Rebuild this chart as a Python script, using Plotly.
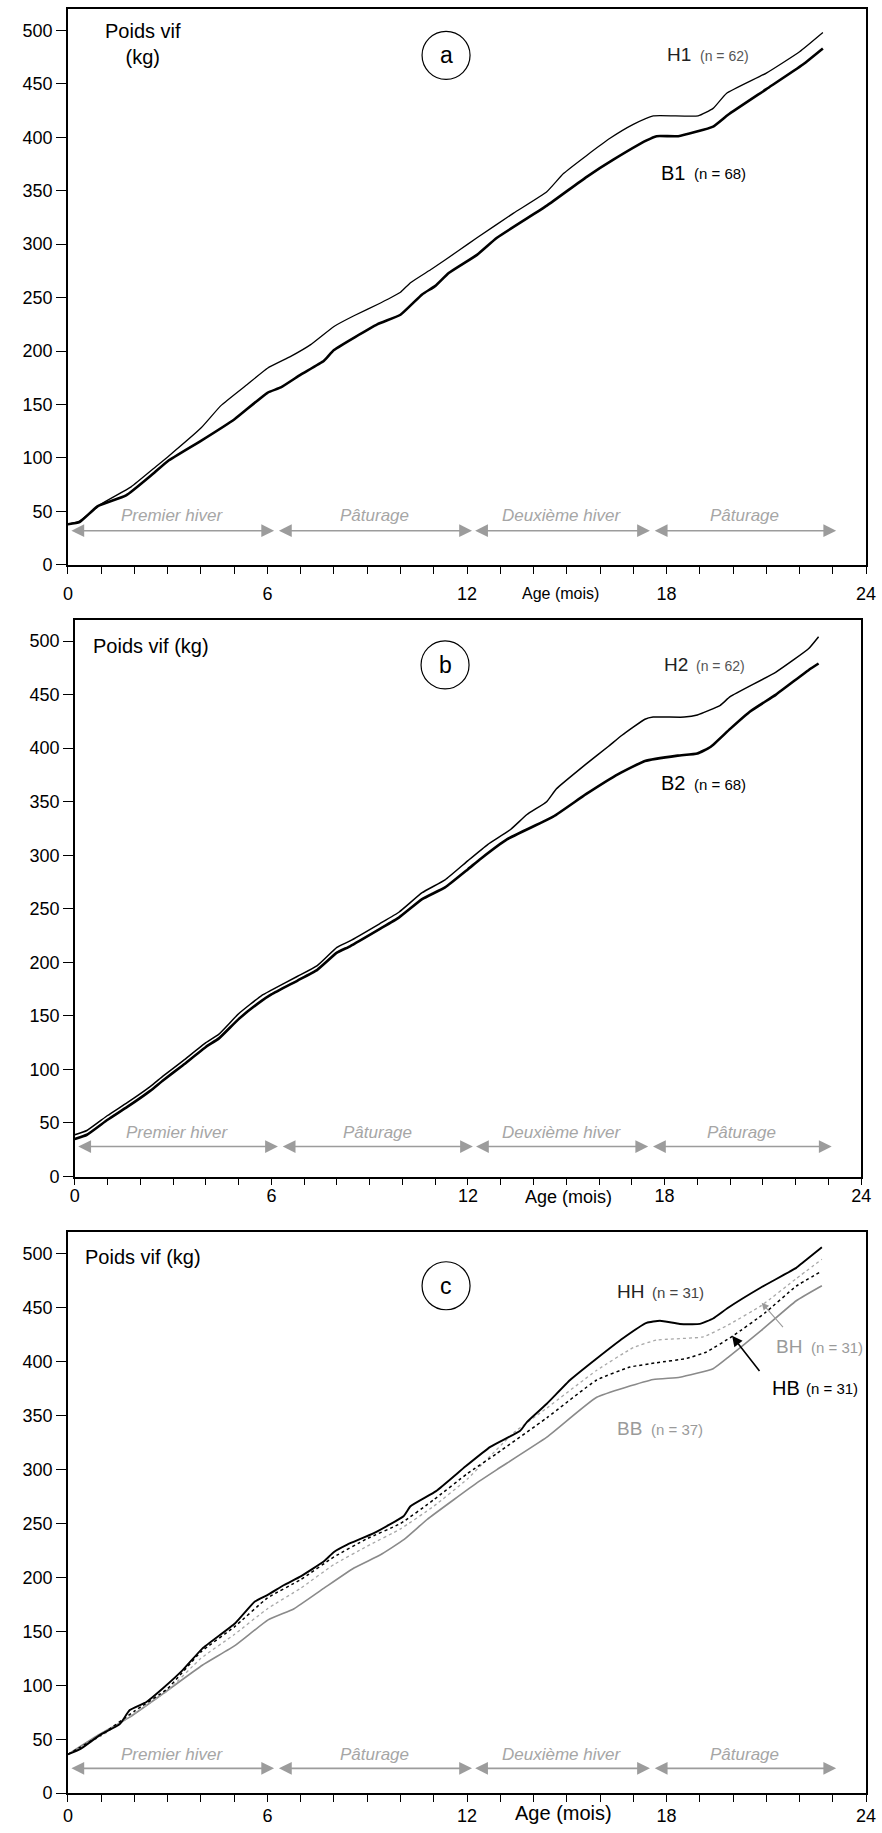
import plotly.graph_objects as go

# ---------------- data (age in months, live weight in kg) ----------------
H1_age = [0, 0.35, 1.0, 1.9, 2.65, 3.0, 4.0, 4.6, 5.4, 6.0, 6.7, 7.3, 8.0, 8.6, 9.4, 10.0, 10.3, 10.95,
          11.75, 12.3, 13.4, 14.4, 14.9, 15.6, 16.3, 17.0, 17.6, 18.95, 19.4, 19.8, 21.0, 22.0, 22.7]
H1_w = [38, 41, 57, 73, 92, 101, 128, 149, 169, 184, 195, 206, 223, 233, 245, 255, 264, 277,
        294, 306, 329, 349, 366, 383, 399, 412, 420, 420, 427, 441, 460, 480, 498]
B1_age = [0, 0.35, 0.9, 1.75, 2.55, 3.0, 4.0, 5.0, 6.0, 6.4, 7.0, 7.7, 8.0, 9.3, 10.0, 10.65, 11.05,
          11.45, 12.3, 12.9, 14.4, 15.6, 16.4, 17.4, 17.7, 18.35, 19.4, 19.85, 21.0, 22.1, 22.7]
B1_w = [38, 40, 55, 65, 85, 97, 116, 136, 161, 166, 178, 191, 201, 225, 234, 253, 261,
        273, 290, 306, 336, 363, 379, 397, 401, 401, 410, 421, 445, 468, 483]

H2_age = [0, 0.37, 1.0, 1.6, 2.3, 2.7, 3.3, 4.0, 4.4, 5.0, 5.7, 6.0, 6.8, 7.4, 8.0, 8.4, 9.3, 9.9, 10.6,
          11.3, 12.0, 12.6, 13.3, 13.8, 14.4, 14.7, 15.6, 16.3, 16.7, 17.4, 17.65, 18.6, 19.0, 19.7,
          20.0, 21.4, 22.4, 22.7]
H2_w = [39, 43, 57, 69, 84, 94, 108, 125, 133, 152, 169, 174, 187, 197, 214, 220, 236, 247, 265,
        277, 295, 310, 324, 338, 350, 362, 385, 402, 412, 427, 429, 429, 431, 440,
        448, 471, 493, 504]
B2_age = [0, 0.37, 1.0, 1.6, 2.3, 2.7, 3.3, 4.0, 4.4, 5.0, 5.7, 6.0, 6.8, 7.4, 8.0, 8.4, 9.3, 9.9, 10.6,
          11.3, 12.0, 12.4, 13.2, 14.6, 15.6, 16.6, 17.4, 18.4, 19.0, 19.4, 20.0, 20.6, 21.4, 22.4, 22.7]
B2_w = [35, 39, 53, 65, 80, 90, 104, 121, 129, 147, 164, 170, 183, 193, 209, 215, 231, 242, 259,
        270, 287, 297, 315, 336, 357, 376, 388, 393, 395, 401, 418, 434, 450, 473, 479]

HH_age = [0, 0.38, 0.97, 1.56, 1.86, 2.36, 2.85, 3.45, 4.04, 5.03, 5.62, 6.02, 6.5, 7.0, 7.7, 8.0, 8.4,
          9.2, 10.1, 10.3, 11.07, 11.96, 12.7, 13.6, 13.8, 14.4, 15.1, 15.9, 16.7, 17.4, 17.8, 18.4,
          19.0, 19.4, 19.85, 20.85, 21.9, 22.1, 22.67]
HH_w = [36, 41, 54, 64, 77, 84.5, 97, 114, 134, 157.5, 177.6, 184, 193, 201, 215, 223.6, 230.4,
        241, 257, 266, 280, 303, 321, 336, 344, 361, 383, 403, 422, 436, 438, 435,
        435, 440, 450, 469, 487, 492, 506]
HB_age = [0, 1.0, 2.0, 3.0, 4.0, 5.0, 6.0, 7.0, 8.0, 9.0, 10.0, 11.0, 12.0, 12.9, 14.4, 15.9, 16.9,
          17.7, 18.6, 19.2, 20.0, 20.95, 21.9, 22.67]
HB_w = [36, 54, 76, 97, 131, 154, 181, 198, 219, 236, 250, 272, 296, 315, 348, 383, 395,
        399, 403, 409, 424, 445, 470, 484]
BH_age = [0, 1.0, 2.0, 3.0, 4.0, 5.0, 6.0, 7.0, 8.0, 9.0, 10.0, 11.0, 12.0, 13.4, 14.4, 15.9, 17.0,
          17.7, 19.1, 19.85, 20.85, 21.9, 22.67]
BH_w = [36, 53, 74, 95, 125, 147, 171, 190, 212, 229, 245, 266, 291, 334, 357, 392, 413,
        420, 423, 434, 452, 477, 495]
BB_age = [0, 0.87, 1.86, 2.85, 4.04, 5.03, 6.02, 6.8, 7.7, 8.6, 9.4, 10.1, 10.8, 11.6, 12.36, 12.9,
          14.4, 15.9, 17.6, 18.4, 19.4, 19.85, 20.85, 21.9, 22.67]
BB_w = [36, 53, 70.5, 92, 118.6, 137, 160.6, 171, 190, 208.7, 221, 235, 253.7, 272, 289, 300,
        330, 367, 383.5, 385.6, 393.5, 404, 429, 456.5, 470.4]

phase_labels = ["Premier hiver", "Pâturage", "Deuxième hiver", "Pâturage"]
phase_start = [0.06, 6.3, 12.2, 17.6]
phase_end = [6.2, 12.15, 17.5, 23.1]

x_tick_vals = list(range(0, 25))
x_tick_text = [str(v) if v % 6 == 0 else "" for v in x_tick_vals]
y_tick_vals = list(range(0, 501, 50))

FONT = "Liberation Sans, Arial, sans-serif"
W, H = 882, 1833

fig = go.Figure()

def add_line(x, y, ax, color="black", width=1.5, dash="solid"):
    fig.add_trace(go.Scatter(x=x, y=y, mode="lines", xaxis="x" + ax, yaxis="y" + ax,
                             line=dict(color=color, width=width, dash=dash, shape="spline",
                                       smoothing=0.4),
                             showlegend=False, hoverinfo="skip"))

# panel a
add_line(H1_age, H1_w, "", width=1.3)
add_line(B1_age, B1_w, "", width=2.6)
# panel b
add_line(H2_age, H2_w, "2", width=1.5)
add_line(B2_age, B2_w, "2", width=2.6)
# panel c
add_line(BB_age, BB_w, "3", color="#8a8a8a", width=1.6)
add_line(BH_age, BH_w, "3", color="#a8a8a8", width=1.3, dash="dot")
add_line(HB_age, HB_w, "3", color="black", width=1.5, dash="3px,3px")
add_line(HH_age, HH_w, "3", color="black", width=1.9)

def px_x(px):
    return px / W

def px_y(py):
    return 1 - py / H

# panel geometry in page pixels: (x0, x1, ybottom, ytop, tick label standoff)
panels = {
    "": (64, 876, 568, 9, 5),
    "2": (71, 871, 1183, 623, -5),
    "3": (64, 876, 1803, 1239, -2),
}

layout = dict(width=W, height=H, margin=dict(l=0, r=0, t=0, b=0),
              paper_bgcolor="white", plot_bgcolor="white", showlegend=False)
for k, (px0, px1, pyb, pyt, stand) in panels.items():
    xa = dict(domain=[px_x(px0), px_x(px1)], range=[0, 24], anchor="y" + k,
              tickvals=x_tick_vals, ticktext=x_tick_text, ticks="outside", ticklen=7,
              tickwidth=1.2, tickcolor="black", showline=True, linecolor="black",
              linewidth=1.5, mirror=True, showgrid=False, zeroline=False,
              ticklabelstandoff=stand, ticklabeloverflow="allow",
              tickfont=dict(family=FONT, size=18, color="black"))
    ya = dict(domain=[px_y(pyb), px_y(pyt)], range=[0, 520], anchor="x" + k,
              tickvals=y_tick_vals, ticks="outside", ticklen=10, tickwidth=1.2,
              tickcolor="black", showline=True, linecolor="black", linewidth=1.5,
              mirror=True, showgrid=False, zeroline=False,
              tickfont=dict(family=FONT, size=18, color="black"))
    layout["xaxis" + k] = xa
    layout["yaxis" + k] = ya
fig.update_layout(**layout)

ann = []
shapes = []

def txt(ax, x, y, text, size=16, color="black", xanchor="left", italic=False, yref=None):
    ann.append(dict(xref="x" + ax, yref=yref if yref else "y" + ax, x=x, y=y, text=text,
                    showarrow=False, xanchor=xanchor, yanchor="middle", align="center",
                    font=dict(family=FONT, size=size, color=color,
                              style="italic" if italic else "normal")))

# axis titles "Age (mois)"
txt("", 14.8, px_y(597), "Age (mois)", size=16, xanchor="center", yref="paper")
txt("2", 15.07, px_y(1204), "Age (mois)", size=18, xanchor="center", yref="paper")
txt("3", 14.9, px_y(1823), "Age (mois)", size=20, xanchor="center", yref="paper")

# y titles inside
txt("", 2.26, 487, "Poids vif<br>(kg)", size=20, xanchor="center")
txt("2", 0.5, 495, "Poids vif (kg)", size=20)
txt("3", 0.45, 497, "Poids vif (kg)", size=20)

# panel letters in circles
for ax, cx, cy, letter in [("", 11.37, 476.6, "a"), ("2", 11.3, 477.7, "b"), ("3", 11.37, 470.4, "c")]:
    shapes.append(dict(type="circle", xref="x" + ax, yref="y" + ax, xsizemode="pixel",
                       ysizemode="pixel", xanchor=cx, yanchor=cy, x0=-24, x1=24, y0=-24, y1=24,
                       line=dict(color="black", width=1.2)))
    txt(ax, cx, cy, letter, size=23, xanchor="center")

# series labels
txt("", 17.94, 477, "H1", size=19, color="#222")
txt("", 18.95, 476, "(n = 62)", size=14, color="#555")
txt("", 17.76, 366.5, "B1", size=20)
txt("", 18.77, 366, "(n = 68)", size=15)
txt("2", 17.91, 477.7, "H2", size=19, color="#222")
txt("2", 18.9, 477, "(n = 62)", size=14, color="#555")
txt("2", 17.82, 367, "B2", size=20)
txt("2", 18.84, 366.5, "(n = 68)", size=15)
txt("3", 16.44, 465, "HH", size=19, color="#222")
txt("3", 17.5, 464.5, "(n = 31)", size=15, color="#444")
txt("3", 21.22, 414, "BH", size=19, color="#9a9a9a")
txt("3", 22.28, 413.5, "(n = 31)", size=15, color="#9a9a9a")
txt("3", 21.1, 376, "HB", size=20)
txt("3", 22.14, 375.5, "(n = 31)", size=15)
txt("3", 16.44, 338, "BB", size=19, color="#9a9a9a")
txt("3", 17.48, 337.5, "(n = 37)", size=15, color="#9a9a9a")

# pointer arrows in panel c
ann.append(dict(xref="x3", yref="y3", axref="x3", ayref="y3", x=19.97, y=424, ax=20.83, ay=390,
                text="", showarrow=True, arrowhead=2, arrowsize=1.3, arrowwidth=1.6,
                arrowcolor="black", standoff=0, startstandoff=0))
ann.append(dict(xref="x3", yref="y3", axref="x3", ayref="y3", x=20.86, y=454.7, ax=21.54, ay=430.7,
                text="", showarrow=True, arrowhead=2, arrowsize=1.3, arrowwidth=1.1,
                arrowcolor="#9a9a9a", standoff=0, startstandoff=0))

# feeding-phase double arrows
for ax, ay_arrow, ay_text in [("", 32, 46), ("2", 28, 41), ("3", 23, 36)]:
    for lab, s, e in zip(phase_labels, phase_start, phase_end):
        ann.append(dict(xref="x" + ax, yref="y" + ax, axref="x" + ax, ayref="y" + ax,
                        x=e, y=ay_arrow, ax=s, ay=ay_arrow, text="", showarrow=True,
                        arrowhead=2, startarrowhead=2, arrowside="end+start",
                        arrowsize=1.6, startarrowsize=1.6, arrowwidth=1.6,
                        arrowcolor="#9c9c9c", standoff=0, startstandoff=0))
        txt(ax, (s + e) / 2, ay_text, lab, size=17, color="#a6a6a6", xanchor="center", italic=True)

fig.update_layout(annotations=ann, shapes=shapes)
fig.write_html("out.html", config={"displayModeBar": False},
               post_script="document.body.style.margin='0';"
                           "document.body.style.overflow='hidden';")
